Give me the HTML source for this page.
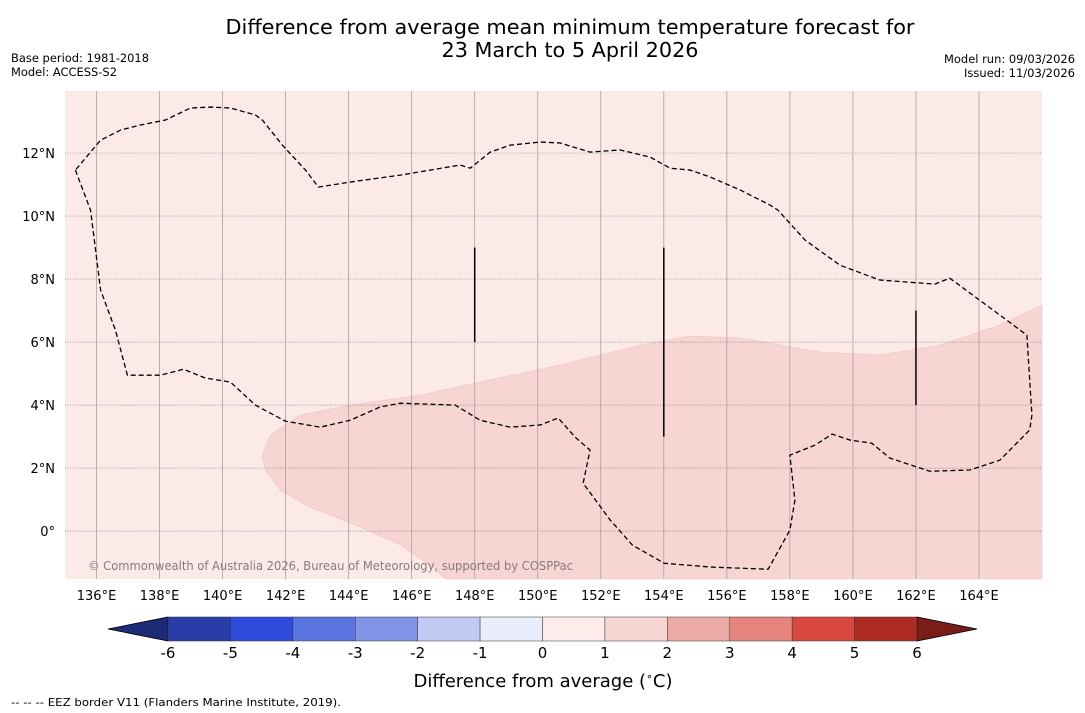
<!DOCTYPE html>
<html><head><meta charset="utf-8"><style>
body{margin:0;width:1085px;height:713px;background:#fff;font-family:"DejaVu Sans","Liberation Sans",sans-serif;overflow:hidden}
svg{display:block}
</style></head><body>
<svg id="c" width="1085" height="713" xmlns="http://www.w3.org/2000/svg" font-family="DejaVu Sans, Liberation Sans, sans-serif">
<text x="570" y="34" text-anchor="middle" font-size="20" textLength="689" lengthAdjust="spacingAndGlyphs">Difference from average mean minimum temperature forecast for</text>
<text x="570" y="57" text-anchor="middle" font-size="20" textLength="257" lengthAdjust="spacingAndGlyphs">23 March to 5 April 2026</text>
<text x="11" y="62" font-size="11.5" textLength="138" lengthAdjust="spacingAndGlyphs">Base period: 1981-2018</text>
<text x="11" y="76" font-size="11.5" textLength="106" lengthAdjust="spacingAndGlyphs">Model: ACCESS-S2</text>
<text x="1075" y="63" font-size="11.5" text-anchor="end" textLength="131" lengthAdjust="spacingAndGlyphs">Model run: 09/03/2026</text>
<text x="1075" y="77" font-size="11.5" text-anchor="end" textLength="111" lengthAdjust="spacingAndGlyphs">Issued: 11/03/2026</text>
<g id="map"></g>
<g id="cbar"></g>
<text x="543" y="687" text-anchor="middle" font-size="18">Difference from average (<tspan font-size="11" dy="-7">∘</tspan><tspan dy="7">C)</tspan></text>
<text x="11" y="706" font-size="11" textLength="330" lengthAdjust="spacingAndGlyphs">--  --  -- EEZ border V11 (Flanders Marine Institute, 2019).</text>
</svg>
<script>
const lonTicks=[136,138,140,142,144,146,148,150,152,154,156,158,160,162,164];
const latTicks=[12,10,8,6,4,2,0];
const levels=[-6,-5,-4,-3,-2,-1,0,1,2,3,4,5,6];
const levelColors=["#2a3ca8","#2e4ddc","#5a74e0","#8294e8","#c2c9f3","#eaedfb","#fdecea","#f6d5d3","#ebaaa6","#e5847d","#d9483f","#ae2b24"];
const extColors=["#1c2a78","#7a1c18"];
const anomalyBoundary=[[166,7.17],[164.66,6.54],[162.76,5.9],[160.86,5.59],[158.96,5.68],[156.42,6.13],[154.83,6.19],[153.25,5.9],[150.71,5.27],[148.17,4.73],[146.27,4.32],[144.05,4.0],[142.46,3.68],[141.51,3.05],[141.26,2.41],[141.36,1.94],[141.83,1.3],[142.78,0.76],[144.37,0.13],[145.64,-0.44],[146.59,-1.08],[147.07,-1.52],[166,-1.52]];
const eezPolygon=[[135.33,11.46],[135.81,10.19],[135.97,8.92],[136.13,7.65],[136.6,6.38],[136.98,4.95],[138.03,4.95],[138.76,5.14],[139.45,4.86],[140.25,4.73],[141.04,4.0],[141.99,3.49],[143.1,3.3],[144.05,3.52],[145.0,3.94],[145.64,4.06],[147.38,4.0],[148.17,3.52],[149.12,3.3],[150.08,3.37],[150.65,3.59],[151.19,2.98],[151.66,2.57],[151.44,1.52],[152.3,0.35],[153.0,-0.44],[154.01,-1.02],[155.47,-1.14],[157.31,-1.21],[158.0,0.03],[158.16,0.98],[158.0,2.41],[158.8,2.73],[159.34,3.08],[159.91,2.89],[160.6,2.79],[161.17,2.32],[162.44,1.9],[163.71,1.94],[164.66,2.25],[165.61,3.21],[165.68,3.68],[165.52,6.22],[164.66,6.86],[163.07,8.03],[162.6,7.84],[160.85,7.97],[159.59,8.44],[158.48,9.24],[157.62,10.19],[157.37,10.35],[156.42,10.83],[155.47,11.24],[154.83,11.46],[154.2,11.52],[153.57,11.87],[152.61,12.1],[151.66,12.03],[150.71,12.32],[150.08,12.35],[149.12,12.25],[148.49,12.03],[147.86,11.52],[147.54,11.62],[145.64,11.3],[144.05,11.08],[143.04,10.92],[142.63,11.46],[141.9,12.25],[141.26,13.05],[141.04,13.21],[140.25,13.43],[139.61,13.46],[138.98,13.43],[138.19,13.05],[137.39,12.89],[136.76,12.73],[136.13,12.41],[135.33,11.46]];
const eezSegments=[[148,6,9],[154,3,9],[162,4,7]];
const NS="http://www.w3.org/2000/svg";
const L=65,R=1042,T=91,B=579;
const lon0=135,lon1=166,lat0=-1.52,lat1=13.97;
const X=v=>L+(v-lon0)/(lon1-lon0)*(R-L);
const Y=v=>B-(v-lat0)/(lat1-lat0)*(B-T);
function mk(tag,attrs,parent){const e=document.createElementNS(NS,tag);for(const k in attrs)e.setAttribute(k,attrs[k]);parent.appendChild(e);return e;}
const map=document.getElementById('map');
let e=mk('rect',{x:L,y:T,width:R-L,height:B-T,fill:"#fbeae8"},map);


e=mk('polygon',{points:anomalyBoundary.map(p=>X(p[0])+','+Y(p[1])).join(' '),fill:"#f6d5d3",stroke:"#ecc4c2","stroke-width":0.6},map);


lonTicks.forEach(v=>{
 let g=mk('line',{x1:X(v),x2:X(v),y1:T,y2:B,stroke:"#a8a0a0","stroke-width":0.8},map);
 
 
 let t=mk('text',{x:X(v),y:600,"text-anchor":"middle","font-size":13},map);t.textContent=v+'°E';
 
 
});
latTicks.forEach(v=>{
 let g=mk('line',{x1:L,x2:R,y1:Y(v),y2:Y(v),stroke:"#807878","stroke-width":0.7,"stroke-dasharray":"1,1.5"},map);
 
 
 let t=mk('text',{x:55,y:Y(v)+5,"text-anchor":"end","font-size":13},map);t.textContent=v===0?'0°':v+'°N';
 
 
});
e=mk('polyline',{points:eezPolygon.map(p=>X(p[0])+','+Y(p[1])).join(' '),fill:"none",stroke:"#000","stroke-width":1.3,"stroke-dasharray":"5,3"},map);


eezSegments.forEach(s=>{
 let l=mk('line',{x1:X(s[0]),x2:X(s[0]),y1:Y(s[1]),y2:Y(s[2]),stroke:"#000","stroke-width":1.5},map);
 
 
});
e=mk('text',{x:88,y:570,"font-size":12,fill:"#8a7a7a",textLength:485,lengthAdjust:"spacingAndGlyphs"},map);e.textContent='© Commonwealth of Australia 2026, Bureau of Meteorology, supported by COSPPac';


const cb=document.getElementById('cbar');
const cL=168,cR=917,cT=617,cB=641;
const CX=v=>cL+(v-levels[0])/(levels[levels.length-1]-levels[0])*(cR-cL);
e=mk('polygon',{points:`${cL},${cT} ${cL},${cB} 108,${(cT+cB)/2}`,fill:extColors[0],stroke:"#000","stroke-width":0.8},cb);


e=mk('polygon',{points:`${cR},${cT} ${cR},${cB} 977,${(cT+cB)/2}`,fill:extColors[1],stroke:"#000","stroke-width":0.8},cb);


levelColors.forEach((c,i)=>{
 let r=mk('rect',{x:CX(levels[i]),y:cT,width:CX(levels[i+1])-CX(levels[i]),height:cB-cT,fill:c,stroke:"#333","stroke-width":0.5},cb);
 
 
});
levels.forEach(v=>{
 let t=mk('text',{x:CX(v),y:658,"text-anchor":"middle","font-size":15},cb);t.textContent=v;
 
 
});
</script>
</body></html>
